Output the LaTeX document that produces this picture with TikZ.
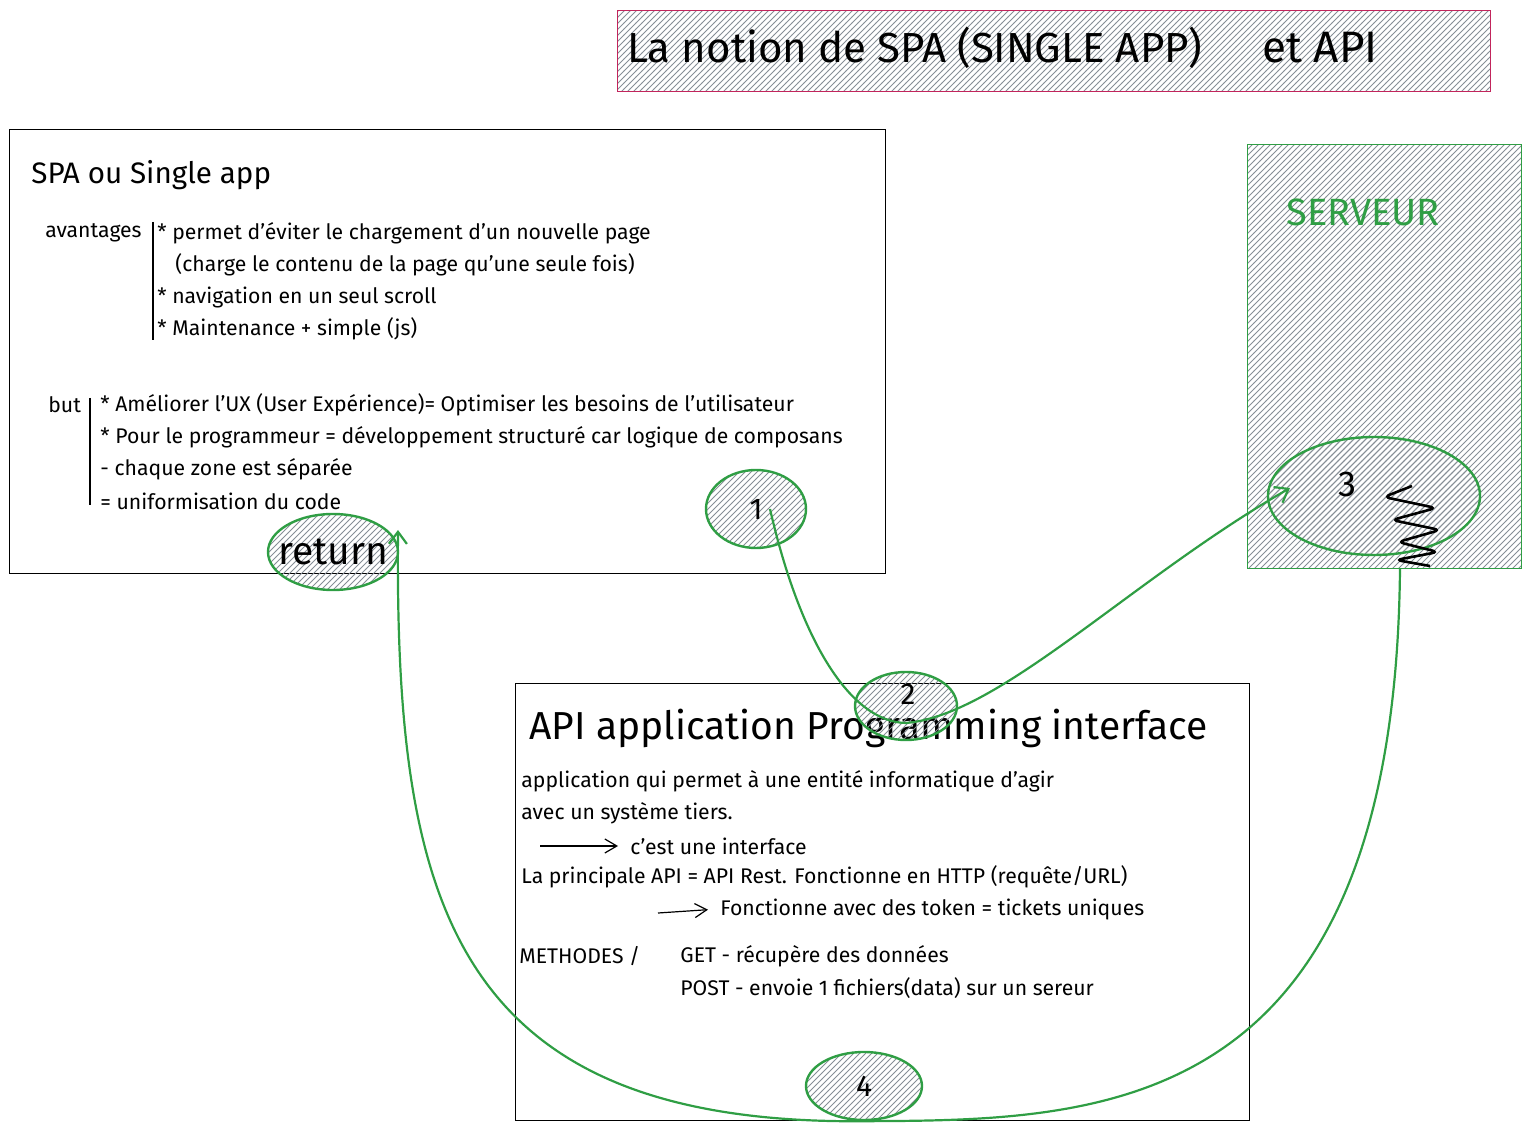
\documentclass[tikz,border=0pt]{standalone}
\usepackage{fontspec}
\setmainfont{Fira Sans}
\usetikzlibrary{positioning}
\usetikzlibrary{calc}
\usetikzlibrary{shapes.geometric}
\usetikzlibrary{arrows.meta}
\usetikzlibrary{patterns}
\definecolor{drawgreen}{HTML}{2F9E44}
\definecolor{drawpink}{HTML}{C2255C}
\definecolor{hatchgray}{HTML}{868E96}

\begin{document}
\begin{tikzpicture}[x=0.5pt,y=-0.5pt,
	txt/.style={anchor=west,inner sep=1pt,font=\fontsize{10.6}{12}\selectfont},
	hatched/.style={pattern=north east lines,pattern color=hatchgray},
	box/.style={draw,line width=0.7pt,anchor=north west,inner sep=0pt},
	bubble/.style={ellipse,draw=drawgreen,line width=1.2pt,hatched,inner sep=0pt,font=\fontsize{15}{18}\selectfont},
	flow/.style={drawgreen,line width=1.1pt,-{Straight Barb[length=6pt,width=9pt]}},
	pointer/.style={line width=0.6pt,shorten >=5pt,-{Straight Barb[length=6pt,width=7pt]}}]
	
	\useasboundingbox (0,0) rectangle (1532,1133);
	
	\node[box,draw=drawpink,hatched,minimum width=436.5pt,minimum height=40.5pt] (titlebox) at (617,10) {};
	\node[box,minimum width=438pt,minimum height=222pt] (spabox) at (9,129) {};
	\node[box,draw=drawgreen,hatched,minimum width=137pt,minimum height=212pt] (serverbox) at (1247,144) {};
	\node[box,minimum width=367pt,minimum height=218.5pt] (apibox) at (515,683) {};
	
	\node[txt,font=\fontsize{21}{24}\selectfont] (title) at (625,48) {La notion de SPA (SINGLE APP)}; \node[txt,font=\fontsize{22}{24}\selectfont] (titleapi) at (1260,48) {et API};
	
	\node[txt,font=\fontsize{14.8}{17}\selectfont] (spatitle) at (29,175) {SPA ou Single app};
	\node[txt] (advantages) at (43,233) {avantages}; \node[txt] (adv1) at (155,233) {* permet d'éviter le chargement d'un nouvelle page};
	\node[txt,below=16pt of adv1.west,anchor=west,xshift=9pt] (adv2) {(charge le contenu de la page qu'une seule fois)};
	\node[txt,below=32pt of adv1.west,anchor=west] (adv3) {* navigation en un seul scroll}; \node[txt,below=48pt of adv1.west,anchor=west] (adv4) {* Maintenance + simple (js)};
	\draw[line width=0.6pt] (153,222) -- (153,340);
	
	\node[txt] (goal) at (46,405) {but}; \node[txt] (goal1) at (98,405) {* Améliorer l'UX (User Expérience)= Optimiser les besoins de l'utilisateur};
	\node[txt,below=16pt of goal1.west,anchor=west] (goal2) {* Pour le programmeur = développement structuré car logique de composans};
	\node[txt,below=32pt of goal1.west,anchor=west] (goal3) {- chaque zone est séparée}; \node[txt,below=48pt of goal1.west,anchor=west] (goal4) {= uniformisation du code};
	\draw[line width=0.6pt] (90,398) -- (90,505);
	
	\node[txt,font=\fontsize{19}{22}\selectfont,text=drawgreen] (server) at (1284,212) {SERVEUR};
	
	\node[txt,font=\fontsize{19.5}{22}\selectfont] (apititle) at (527,728) {API application Programming interface};
	\node[txt] (api1) at (519,781) {application qui permet à une entité informatique d'agir}; \node[txt,below=16pt of api1.west,anchor=west] (api2) {avec un système tiers.};
	\node[txt] (interface) at (628,846) {c'est une interface}; \coordinate (arrowa) at (540,846);
	\node[txt] (rest) at (519,877) {La principale API = API Rest. Fonctionne en HTTP (requête/URL)};
	\node[txt] (token) at (718,909) {Fonctionne avec des token = tickets uniques}; \coordinate (arrowb) at (658,913);
	\node[txt] (methods) at (517,956) {METHODES /}; \node[txt] (get) at (678,956) {GET - récupère des données}; \node[txt,below=16pt of get.west,anchor=west] (post) {POST - envoie 1 fichiers(data) sur un sereur};
	\draw[pointer] (arrowa) -- (interface.west); \draw[pointer] (arrowb) -- (token.west);
	
	\node[bubble,minimum width=65pt,minimum height=38pt] (ret) at (333,552) {};
	\node[inner sep=0pt,font=\fontsize{19.5}{22}\selectfont] (lblret) at (333,552) {return};
	\node[bubble,minimum width=50pt,minimum height=39pt] (one) at (756,509) {1};
	\node[bubble,minimum width=51pt,minimum height=34pt] (two) at (906,706) {};
	\node[inner sep=0pt,font=\fontsize{15}{18}\selectfont] (lbltwo) at (908,694) {2};
	\node[bubble,minimum width=106pt,minimum height=59pt] (three) at (1374,496) {};
	\node[inner sep=0pt,font=\fontsize{18}{20}\selectfont] (lblthree) at (1347,484) {3};
	\node[bubble,minimum width=58pt,minimum height=34pt] (four) at (864,1086) {4};
	\draw[line width=1.3pt,rounded corners=3pt] (1412,486) -- (1384,497) -- (1436,508) -- (1392,520) -- (1440,530) -- (1398,542) -- (1438,552) -- (1396,560) -- (1430,566);
	
	\draw[flow] ($(one)+(14,0)$) .. controls (800,640) and (850,722) .. ($(two)+(0,17)$) .. controls (1000,715) and (1130,580) .. ($(three)+(-84,-8)$);
	\draw[flow] ($(three)+(26,72)$) .. controls (1395,1120) and (1100,1120) .. (four.south) .. controls (450,1125) and (395,900) .. ($(ret)+(65,-22)$);
	
\end{tikzpicture}
\end{document}
